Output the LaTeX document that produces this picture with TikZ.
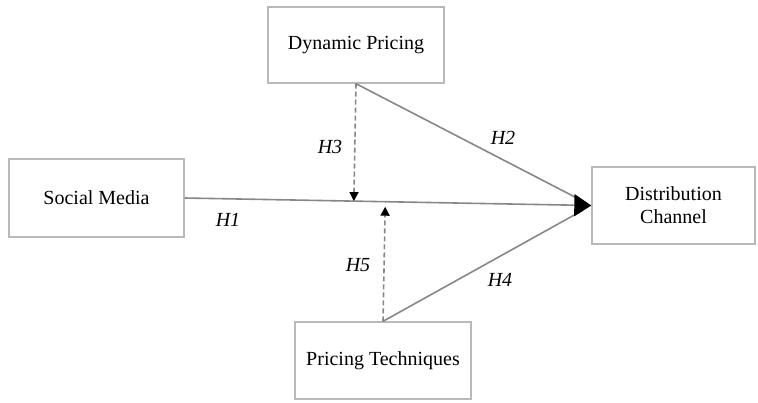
\documentclass[tikz,border=0pt]{standalone}
\usepackage{fontspec}
\setmainfont{Liberation Serif}
\usetikzlibrary{arrows.meta,calc}
\definecolor{boxgray}{RGB}{185,185,185}
\definecolor{linegray}{RGB}{135,135,135}

\begin{document}
\begin{tikzpicture}[x=0.5pt,y=-0.5pt,
	varbox/.style={rectangle, draw=boxgray, line width=0.7pt, fill=white, font=\fontsize{10}{11.5}\selectfont, align=center, inner sep=0pt},
	mainpath/.style={draw=linegray, line width=0.8pt, -{Triangle[length=8.5pt,width=11pt,color=black]}},
	sidepath/.style={draw=linegray, line width=0.8pt, shorten >=5pt},
	modpath/.style={draw=linegray, line width=0.8pt, dashed, dash pattern=on 2.5pt off 1.5pt, -{Triangle[length=4.5pt,width=4.5pt,color=black]}},
	hyplabel/.style={font=\itshape\fontsize{10}{11.5}\selectfont},
	]
	\useasboundingbox (0,0) rectangle (758,402);
	%Nodes
	\node[varbox, minimum width=88pt, minimum height=38pt]   (dyn)  at (356,45)    {Dynamic Pricing};
	\node[varbox, minimum width=87.5pt, minimum height=39pt] (soc)  at (96.5,198)  {Social Media};
	\node[varbox, minimum width=81.5pt, minimum height=38.5pt] (dist) at (673.5,205.5) {Distribution\\Channel};
	\node[varbox, minimum width=88pt, minimum height=38.5pt] (tech) at (383,360.5) {Pricing Techniques};
	%Meeting points on H1
	\coordinate (m3) at ($(soc.east)!(dyn.south)!(dist.west)$);
	\coordinate (m5) at ($($(soc.east)!(tech.north)!(dist.west)$)+(0,5)$);
	%Lines
	\draw[sidepath] (dyn.south) -- (dist.west);
	\draw[sidepath] (tech.north) -- (dist.west);
	\draw[mainpath] (soc.east) -- (dist.west);
	\draw[modpath] (dyn.south) -- (m3);
	\draw[modpath] (tech.north) -- (m5);
	%Labels
	\node[hyplabel] (h1) at (228,220) {H1};
	\node[hyplabel] (h2) at (503,138) {H2};
	\node[hyplabel] (h3) at (330,147) {H3};
	\node[hyplabel] (h4) at (500,280) {H4};
	\node[hyplabel] (h5) at (358,265) {H5};
\end{tikzpicture}
\end{document}
